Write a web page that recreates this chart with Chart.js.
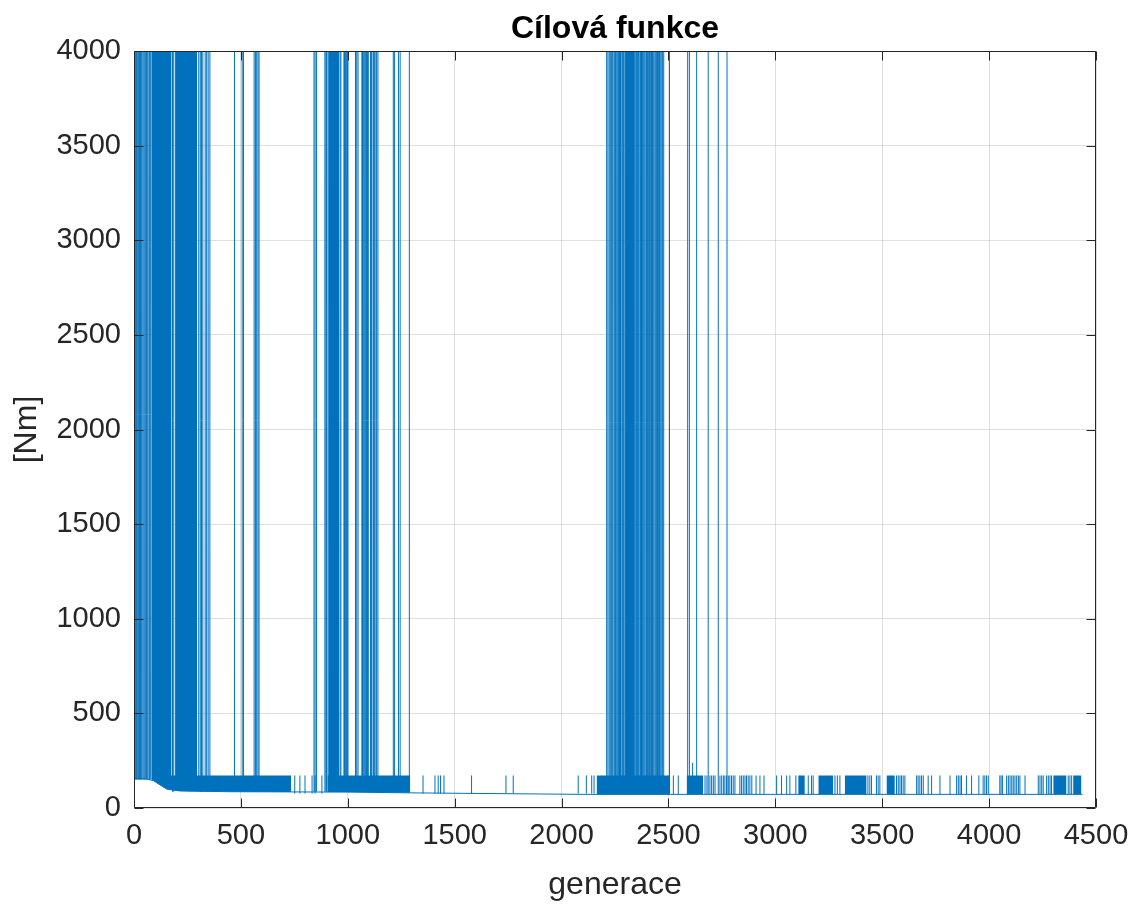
<!DOCTYPE html>
<html>
<head>
<meta charset="utf-8">
<title>Cílová funkce</title>
<script src="https://cdn.jsdelivr.net/npm/chart.js@4.4.0/dist/chart.umd.min.js"></script>
<style>
  html, body { margin: 0; padding: 0; background: #fff; }
  canvas { display: block; }
</style>
</head>
<body>
<canvas id="chart" width="1142" height="904"></canvas>
<script>
// Values (generation index vs. objective value in Nm)
const xTicks = [0, 500, 1000, 1500, 2000, 2500, 3000, 3500, 4000, 4500];
const yTicks = [0, 500, 1000, 1500, 2000, 2500, 3000, 3500, 4000];

// lower envelope of the run
const floorGen = [0, 30, 60, 90, 122, 153, 215, 450, 1000, 1300, 1600, 1900, 2100, 3000, 4437];
const floorNm = [157, 156, 153, 145, 122, 100, 90, 86, 84, 80, 77, 74, 72, 72, 72];

// generations where the value shoots past the 4000 limit
const earlySpikes = [1, 4, 8, 11, 14, 18, 22, 25, 28, 31, 34, 38, 43, 48, 53, 58, 62, 66, 72, 76, 80];
const earlyBase = 150;
const firstSpikes = [180, 186, 303, 310, 316, 322, 333, 340, 347, 355, 470, 506, 512, 562, 568, 574, 580, 585,
  842, 847, 854, 893, 898, 900, 903, 964, 968, 982, 985, 988, 991, 995, 998, 1001, 1036, 1042, 1048, 1066,
  1069, 1072, 1076, 1080, 1084, 1088, 1092, 1096, 1106, 1110, 1113, 1120, 1124, 1128, 1135, 1141, 1213,
  1219, 1237, 1245, 1288];
const firstBase = 86;
const secondSpikes = [2211, 2217, 2223, 2228, 2233, 2239, 2245, 2249, 2252, 2258, 2263, 2267, 2271, 2276,
  2282, 2286, 2289, 2293, 2347, 2351, 2356, 2359, 2362, 2367, 2370, 2374, 2378, 2382, 2386, 2390, 2395,
  2398, 2401, 2404, 2408, 2411, 2414, 2418, 2421, 2425, 2428, 2432, 2437, 2441, 2445, 2449, 2453, 2458,
  2464, 2469, 2473, 2478, 2505, 2590, 2598, 2632, 2686, 2733, 2774];
const secondBase = 73;
const spikePeak = 4400;

// stretches so dense that they read as solid blue up to the limit
const topBlocks = [[83, 176], [192, 296], [908, 960], [2297, 2343]];

// small jumps up to about 170 Nm
const smallPeak = 172;
const smallSpikesMid = [752, 776, 800, 833, 847, 879, 1352, 1408, 1423, 1434, 1450, 1579, 1740, 1774,
  2078, 2116, 2141, 2152];
const smallBaseMid = 76;
const smallSpikesLate = [2499, 2523, 2546, 2671, 2680, 2694, 2702, 2710, 2718, 2741, 2749, 2757, 2764,
  2772, 2780, 2787, 2795, 2803, 2811, 2834, 2842, 2850, 2858, 2865, 2873, 2881, 2890, 2910, 2928, 2947,
  3006, 3029, 3053, 3068, 3096, 3154, 3169, 3177, 3279, 3290, 3302, 3433, 3442, 3450, 3473, 3481, 3489,
  3567, 3575, 3583, 3590, 3598, 3606, 3661, 3668, 3676, 3684, 3692, 3715, 3731, 3770, 3817, 3848, 3856,
  3864, 3871, 3894, 3918, 3952, 3972, 3980, 3988, 3996, 4050, 4056, 4063, 4082, 4090, 4098, 4106, 4113,
  4121, 4129, 4137, 4144, 4168, 4230, 4238, 4246, 4253, 4269, 4277, 4285, 4292, 4370, 4378, 4386];
const smallBaseLate = 72;
const oddSpikeGen = [2613];
const oddSpikeNm = [238];

// dense stretches of small jumps: [from, to, top]
const lowBlocks = [[160, 735, 172], [905, 1292, 172], [2164, 2507, 172], [2585, 2662, 172],
  [3107, 3138, 172], [3201, 3271, 172], [3325, 3427, 172], [3520, 3559, 172], [4300, 4362, 172],
  [4393, 4432, 172]];

const blue = '#0072BD';
const ink = '#262626';
const titleText = 'Cílová funkce';

function spikeData(gens, base, peak) {
  const pts = [];
  gens.forEach(g => {
    pts.push({ x: g, y: base }, { x: g, y: peak }, { x: g, y: null });
  });
  return pts;
}

function lineSet(data) {
  return { data: data, borderColor: blue, borderWidth: 1, pointRadius: 0, fill: false, tension: 0 };
}

function blockSet(from, to, top) {
  return {
    data: [{ x: from, y: top }, { x: to, y: top }],
    borderWidth: 0, pointRadius: 0, fill: 0, backgroundColor: blue
  };
}

const datasets = [lineSet(floorGen.map((g, i) => ({ x: g, y: floorNm[i] })))];
topBlocks.forEach(b => datasets.push(blockSet(b[0], b[1], 4000)));
lowBlocks.forEach(b => datasets.push(blockSet(b[0], b[1], b[2])));
datasets.push(lineSet(spikeData(earlySpikes, earlyBase, spikePeak)));
datasets.push(lineSet(spikeData(firstSpikes, firstBase, spikePeak)));
datasets.push(lineSet(spikeData(secondSpikes, secondBase, spikePeak)));
datasets.push(lineSet(spikeData(smallSpikesMid, smallBaseMid, smallPeak)));
datasets.push(lineSet(spikeData(smallSpikesLate, smallBaseLate, smallPeak)));
datasets.push(lineSet(spikeData(oddSpikeGen, smallBaseLate, oddSpikeNm[0])));

// box round the plot, inward tick marks and a title centred over the axes, MATLAB style
const matlabAxes = {
  id: 'matlabAxes',
  afterDraw(chart) {
    const { ctx, chartArea: a } = chart;
    const sx = chart.scales.x, sy = chart.scales.y;
    const L = Math.round(a.left) + 0.5, R = Math.round(a.right) - 0.5;
    const T = Math.round(a.top) + 0.5, B = Math.round(a.bottom) - 0.5;
    ctx.save();
    ctx.strokeStyle = ink;
    ctx.lineWidth = 1;
    ctx.beginPath();
    sx.ticks.forEach(t => {
      const px = Math.round(sx.getPixelForValue(t.value)) + 0.5;
      ctx.moveTo(px, B); ctx.lineTo(px, B - 9);
      ctx.moveTo(px, T); ctx.lineTo(px, T + 9);
    });
    sy.ticks.forEach(t => {
      const py = Math.round(sy.getPixelForValue(t.value)) + 0.5;
      ctx.moveTo(L, py); ctx.lineTo(L + 9, py);
      ctx.moveTo(R, py); ctx.lineTo(R - 9, py);
    });
    ctx.rect(L, T, R - L, B - T);
    ctx.stroke();

    ctx.fillStyle = '#000';
    ctx.font = 'bold 32px "Liberation Sans", Arial, Helvetica, sans-serif';
    ctx.textAlign = 'center';
    ctx.textBaseline = 'middle';
    ctx.fillText(titleText, (a.left + a.right) / 2, 29);
    ctx.restore();
  }
};

Chart.defaults.font.family = '"Liberation Sans", Arial, Helvetica, sans-serif';
Chart.defaults.color = ink;

new Chart(document.getElementById('chart'), {
  type: 'line',
  data: { datasets: datasets },
  plugins: [matlabAxes],
  options: {
    responsive: false,
    animation: false,
    devicePixelRatio: 1,
    layout: { padding: { left: 0, right: 46, top: 51, bottom: 0 } },
    plugins: {
      legend: { display: false },
      tooltip: { enabled: false },
      title: { display: false }
    },
    scales: {
      x: {
        type: 'linear',
        min: 0, max: 4500,
        afterFit: s => { s.height = 96; },
        afterBuildTicks: s => { s.ticks = xTicks.map(v => ({ value: v })); },
        ticks: { font: { size: 29 }, padding: 11, maxRotation: 0, color: ink, callback: v => String(v) },
        grid: { color: 'rgba(38,38,38,0.15)', drawTicks: false },
        border: { display: false },
        title: { display: true, text: 'generace', font: { size: 32 }, color: ink, padding: { top: 0, bottom: 0 } }
      },
      y: {
        min: 0, max: 4000,
        afterFit: s => { s.width = 134; },
        afterBuildTicks: s => { s.ticks = yTicks.map(v => ({ value: v })); },
        ticks: { font: { size: 29 }, padding: 13, color: ink, callback: v => String(v) },
        grid: { color: 'rgba(38,38,38,0.15)', drawTicks: false },
        border: { display: false },
        title: { display: true, text: '[Nm]', font: { size: 32 }, color: ink, padding: { top: 8, bottom: 0 } }
      }
    }
  }
});
</script>
</body>
</html>
